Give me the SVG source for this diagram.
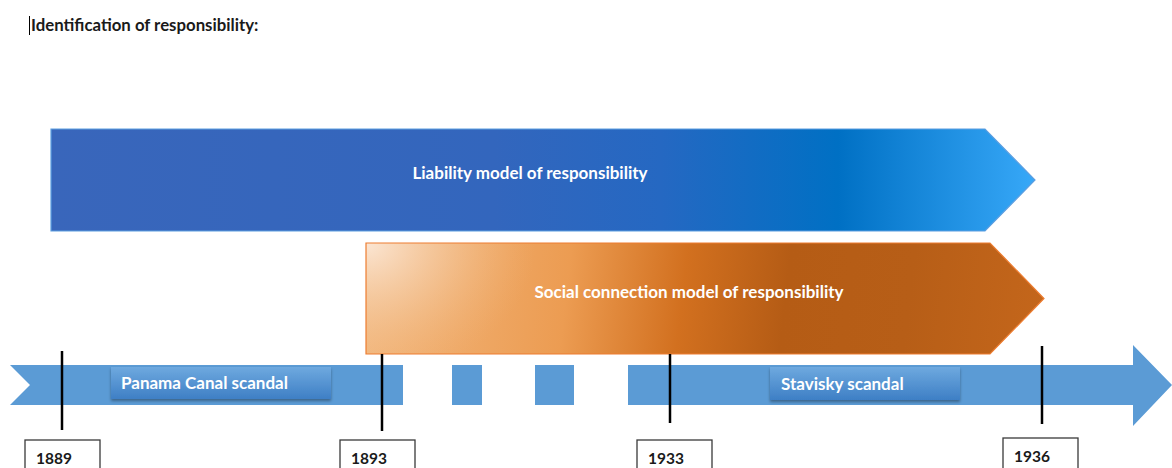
<svg xmlns="http://www.w3.org/2000/svg" width="1172" height="468" viewBox="0 0 1172 468">
<style>
text{font-family:Lato,"Open Sans","Liberation Sans",sans-serif;font-weight:bold}
.w{fill:#fff;font-size:17px}
.y{fill:#1a1a1a;font-size:15.5px}
.tick{stroke:#000;stroke-width:2.5}
.ybox{fill:#fff;stroke:#3a3a3a;stroke-width:1.3}
.band{fill:#5B9BD5}
.lbl{fill:url(#lblg);filter:url(#sh)}
</style>
<defs>
<linearGradient id="bg" x1="0" y1="0" x2="1" y2="0">
<stop offset="0" stop-color="#3966BB"/>
<stop offset="0.45" stop-color="#3366BD"/>
<stop offset="0.62" stop-color="#2568C2"/>
<stop offset="0.8" stop-color="#0070C4"/>
<stop offset="1" stop-color="#37A8F8"/>
</linearGradient>
<linearGradient id="og" gradientUnits="userSpaceOnUse" x1="366" y1="243" x2="1044" y2="320">
<stop offset="0" stop-color="#F2B87F"/>
<stop offset="0.3" stop-color="#EC9C52"/>
<stop offset="0.47" stop-color="#D2701F"/>
<stop offset="0.62" stop-color="#B55C15"/>
<stop offset="0.8" stop-color="#B75E17"/>
<stop offset="1" stop-color="#C4661B"/>
</linearGradient>
<radialGradient id="ohl" gradientUnits="userSpaceOnUse" cx="366" cy="243" r="170" gradientTransform="translate(366 243) scale(1 0.8) translate(-366 -243)">
<stop offset="0" stop-color="#FBE6D4" stop-opacity="1"/>
<stop offset="0.5" stop-color="#F6D0AC" stop-opacity="0.5"/>
<stop offset="1" stop-color="#F2B87F" stop-opacity="0"/>
</radialGradient>
<linearGradient id="lblg" x1="0" y1="0" x2="0" y2="1">
<stop offset="0" stop-color="#6EA9DF"/>
<stop offset="1" stop-color="#3E7FC5"/>
</linearGradient>
<filter id="sh" x="-5%" y="-20%" width="110%" height="150%">
<feDropShadow dx="0" dy="2" stdDeviation="1.5" flood-color="#000" flood-opacity="0.35"/>
</filter>
</defs>
<g id="title">
<line x1="29.5" y1="16" x2="29.5" y2="35" stroke="#000" stroke-width="1"/>
<text x="31" y="31" style="font-size:16.8px;fill:#1a1a1a">Identification of responsibility:</text>
</g>
<g id="liability">
<polygon points="51,129 985,129 1035,180 985,231 51,231" fill="url(#bg)" stroke="#5C9EE0" stroke-width="1.2"/>
<text class="w" x="530" y="179" text-anchor="middle">Liability model of responsibility</text>
</g>
<g id="social">
<polygon points="366,243 990,243 1044,298.5 990,354 366,354" fill="url(#og)"/>
<polygon points="366,243 990,243 1044,298.5 990,354 366,354" fill="url(#ohl)" stroke="#ED7D31" stroke-width="1.2"/>
<text class="w" x="689" y="298" text-anchor="middle">Social connection model of responsibility</text>
</g>
<g id="timeline">
<polygon class="band" points="10,365 403,365 403,405 10,405 30,385"/>
<rect class="band" x="452" y="365" width="30" height="40"/>
<rect class="band" x="535" y="365" width="39" height="40"/>
<polygon class="band" points="628,365 1133,365 1133,345 1172,385 1133,426 1133,405 628,405"/>
</g>
<g id="panama">
<rect class="lbl" x="111" y="367" width="220" height="32"/>
<text class="w" x="121" y="389">Panama Canal scandal</text>
</g>
<g id="stavisky">
<rect class="lbl" x="770" y="367" width="190" height="33"/>
<text class="w" x="781" y="390">Stavisky scandal</text>
</g>
<g id="connectors">
<line class="tick" x1="62" y1="351" x2="62" y2="430"/>
<line class="tick" x1="382" y1="354" x2="382" y2="431"/>
<line class="tick" x1="670" y1="354" x2="670" y2="423"/>
<line class="tick" x1="1042" y1="346" x2="1042" y2="424"/>
</g>
<g id="y1889">
<rect class="ybox" x="25" y="440" width="75" height="35"/>
<text class="y" x="36" y="464">1889</text>
</g>
<g id="y1893">
<rect class="ybox" x="340" y="440" width="75" height="35"/>
<text class="y" x="351" y="464">1893</text>
</g>
<g id="y1933">
<rect class="ybox" x="637" y="440" width="75" height="35"/>
<text class="y" x="648" y="464">1933</text>
</g>
<g id="y1936">
<rect class="ybox" x="1003" y="438" width="75" height="35"/>
<text class="y" x="1014" y="462">1936</text>
</g>
</svg>
